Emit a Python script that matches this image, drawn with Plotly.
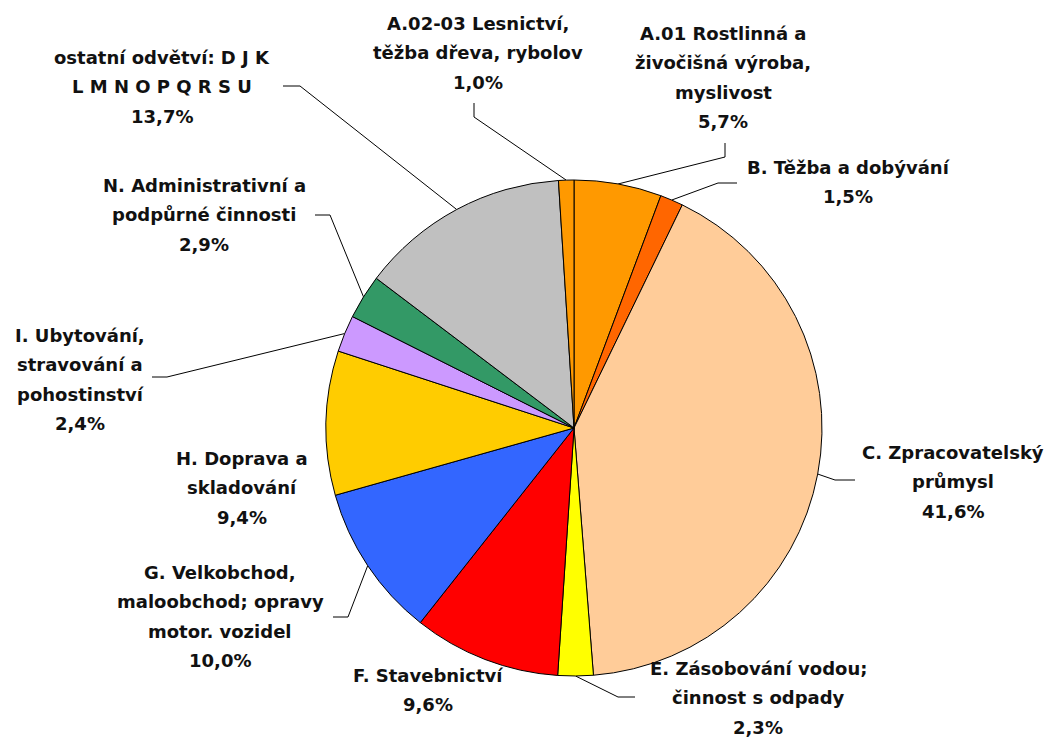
import math
import plotly.graph_objects as go

# ---- data ----
categories = [
    "A.01 Rostlinná a<br>živočišná výroba,<br>myslivost",
    "B. Těžba a dobývání",
    "C. Zpracovatelský<br>průmysl",
    "E. Zásobování vodou;<br>činnost s odpady",
    "F. Stavebnictví",
    "G. Velkobchod,<br>maloobchod; opravy<br>motor. vozidel",
    "H. Doprava a<br>skladování",
    "I. Ubytování,<br>stravování a<br>pohostinství",
    "N. Administrativní a<br>podpůrné činnosti",
    "ostatní odvětví: D J K<br>L M N O P Q R S U",
    "A.02-03 Lesnictví,<br>těžba dřeva, rybolov",
]
values = [5.7, 1.5, 41.6, 2.3, 9.6, 10.0, 9.4, 2.4, 2.9, 13.7, 1.0]
colors = ["#FF9900", "#FF6600", "#FFCC99", "#FFFF00", "#FF0000", "#3366FF",
          "#FFCC00", "#CC99FF", "#339966", "#C0C0C0", "#FF9900"]

# ---- layout (pixels in the page; page body has an 8px margin) ----
OFF = 8
W, H = 1055 - OFF, 738 - OFF
CX, CY, R = 574 - OFF, 428 - OFF, 248
LINE_STEP = 29.5
FONT = dict(family="DejaVu Sans", size=18, color="#111111", weight="bold")

# label centre x and first-line y (page pixels)
label_pos = [(723, 33), (848, 167), (953, 452), (758, 668), (428, 675), (220, 572),
             (242, 458), (80, 335), (204, 185), (162, 57), (478, 23)]
# leader polyline: elbow point, end point near label (None = no leader)
leader_pts = [[(725, 157), (725, 143)], [(718, 183), (737, 183)], [(835, 480), (855, 480)],
              [(618, 697), (635, 697)], None, [(348, 617), (333, 617)], None,
              [(167, 377), (152, 377)], [(330, 215), (315, 215)], [(300, 86), (283, 86)],
              [(474, 117), (474, 103)]]

fig = go.Figure()
fig.add_trace(go.Pie(
    labels=[c.replace("<br>", " ") for c in categories],
    values=values,
    sort=False,
    direction="clockwise",
    rotation=0,
    textinfo="none",
    hoverinfo="label+percent",
    marker=dict(colors=colors, line=dict(color="#000000", width=1)),
    domain=dict(x=[(CX - R) / W, (CX + R) / W], y=[(H - CY - R) / H, (H - CY + R) / H]),
    showlegend=False,
))

# leader lines, anchored at slice mid-angle on the pie edge
total = sum(values)
cum = 0.0
lx, ly = [], []
for v, pts in zip(values, leader_pts):
    mid = (cum + v / 2) / total * 2 * math.pi
    cum += v
    if pts is None:
        continue
    ex = CX + R * math.sin(mid)
    ey = CY - R * math.cos(mid)
    lx += [ex] + [p[0] - OFF for p in pts] + [None]
    ly += [ey] + [p[1] - OFF for p in pts] + [None]

fig.add_trace(go.Scatter(x=lx, y=ly, mode="lines", line=dict(color="#000000", width=1),
                         hoverinfo="skip", showlegend=False))

# labels, one annotation per line
annotations = []
for cat, v, (x, y) in zip(categories, values, label_pos):
    lines = cat.split("<br>") + [f"{v:.1f}".replace(".", ",") + "%"]
    for i, t in enumerate(lines):
        annotations.append(dict(x=x - OFF, y=y - OFF + i * LINE_STEP, xref="x", yref="y",
                                text=t, showarrow=False, xanchor="center",
                                yanchor="middle", font=FONT))

fig.update_layout(
    width=W, height=H,
    margin=dict(l=0, r=0, t=0, b=0),
    paper_bgcolor="white", plot_bgcolor="rgba(0,0,0,0)",
    xaxis=dict(range=[0, W], visible=False, fixedrange=True, domain=[0, 1]),
    yaxis=dict(range=[H, 0], visible=False, fixedrange=True, domain=[0, 1]),
    annotations=annotations,
    showlegend=False,
)

fig.write_html("out.html")
